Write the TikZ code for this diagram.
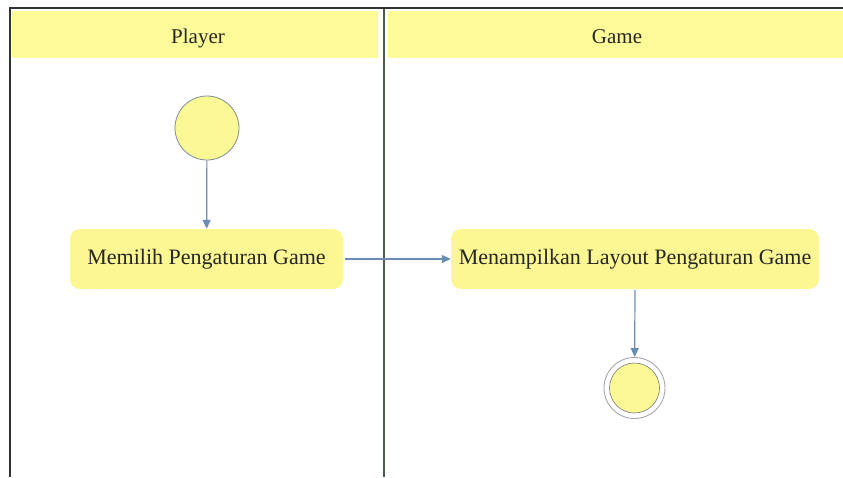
\documentclass[tikz,border=0pt]{standalone}
\usepackage{fontspec}
\setmainfont{Liberation Serif}
\usetikzlibrary{arrows.meta}
\definecolor{laneyellow}{HTML}{FCFB98}
\definecolor{actyellow}{HTML}{FCF792}
\definecolor{nodeyellow}{HTML}{FBF995}
\definecolor{flowblue}{HTML}{6A8DB4}
\definecolor{frameline}{HTML}{2E332E}
\definecolor{divline}{HTML}{4B5B4B}
\definecolor{ringgray}{HTML}{A7A7B4}
\definecolor{startrim}{HTML}{7F8C9C}
\tikzset{
  lanehead/.style={fill=laneyellow, draw=none},
  lanelabel/.style={font=\fontsize{21}{24}\selectfont, text=black!85, anchor=base},
  activity/.style={fill=actyellow, draw=none, rounded corners=10pt,
    minimum height=60pt, inner xsep=0pt, font=\fontsize{22}{25}\selectfont, text=black!85},
  startnode/.style={circle, fill=nodeyellow, draw=startrim, line width=0.8pt,
    minimum size=64pt, inner sep=0pt},
  endring/.style={circle, fill=white, draw=ringgray, line width=0.9pt,
    minimum size=61pt, inner sep=0pt},
  endcore/.style={circle, fill=nodeyellow, draw=ringgray!70!black, line width=0.6pt,
    minimum size=50pt, inner sep=0pt},
  flow/.style={draw=flowblue, line width=1.2pt, -{Triangle[length=9pt,width=8pt]}}
}
\begin{document}
\begin{tikzpicture}[x=1pt,y=-1pt]
  \useasboundingbox (0,0) rectangle (843,477);
  \fill[white] (0,0) rectangle (843,477);

  % swimlane header bands
  \fill[lanehead] (12,11) rectangle (378,58);
  \fill[lanehead] (388,11) rectangle (843,58);
  \node[lanelabel] (playerlbl) at (198,43) {Player};
  \node[lanelabel] (gamelbl) at (617,43) {Game};

  % frame and lane divider
  \draw[frameline, line width=2pt] (10,477) -- (10,8) -- (843,8);
  \draw[divline, line width=2pt] (383.5,9) -- (383.5,477);

  % nodes
  \node[startnode] (start) at (207,128) {};
  \node[activity, minimum width=273pt] (pilih) at (206.5,259) {Memilih Pengaturan Game};
  \node[activity, minimum width=368pt] (tampil) at (635,259) {Menampilkan Layout Pengaturan Game};
  \node[endring] (finish) at (634.5,388) {};
  \node[endcore] (finishcore) at (634.5,388) {};

  % control flows
  \draw[flow] (start) -- (pilih);
  \draw[flow] (pilih.east) ++(2,0) coordinate (pilihout) (pilihout) -- (tampil);
  \draw[flow] (tampil.south) ++(0,1) coordinate (tampilout) (tampilout) -- (finish);
\end{tikzpicture}
\end{document}
